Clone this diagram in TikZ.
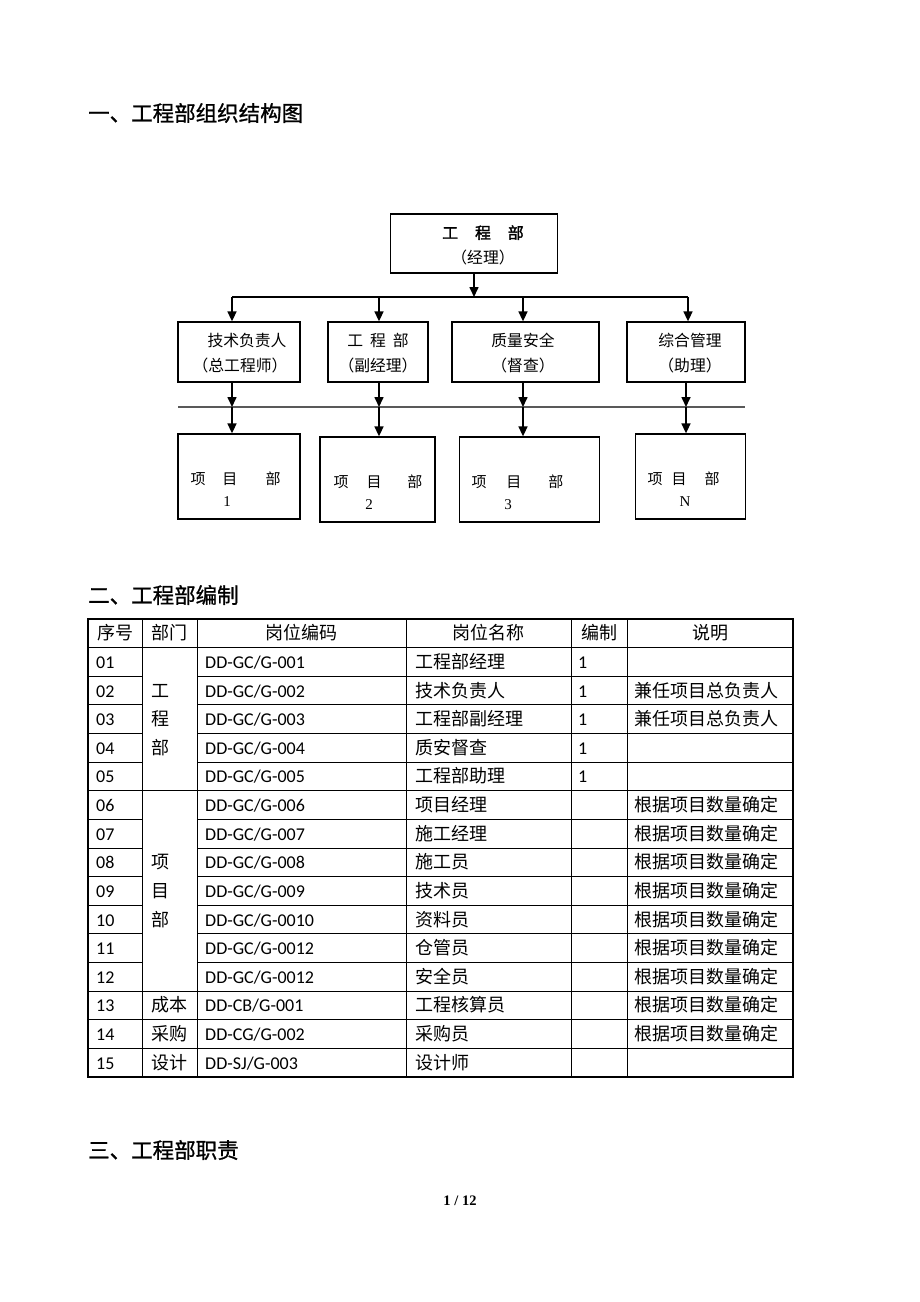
\documentclass[tikz,border=0pt]{standalone}
\usepackage{fontspec}
\setmainfont{Liberation Serif}
\newfontfamily\cjk{Noto Sans CJK SC}[AutoFakeBold=2]
\newfontfamily\cjktitle{Noto Sans CJK SC}[FakeBold=1]
\newfontfamily\latf{Carlito}
\usetikzlibrary{arrows.meta}
\newcommand\tabrow[6]{%
  \pgfmathsetmacro\yy{619+28.625*(#1+0.5)+6.5}%
  \node[tcell] (num#1) at (96,\yy) {\latf #2};
  \node[tcell] (code#1) at (205,\yy) {\latf #3};
  \node[tcell] (name#1) at (415,\yy) {\cjk #4};
  \node[tcell] (cnt#1) at (578,\yy) {\latf #5};
  \node[tcell] (note#1) at (634,\yy) {\cjk #6};
}
\begin{document}
\begin{tikzpicture}[x=1pt,y=-1pt,
  box/.style={draw,line width=1.3pt,inner sep=0pt},
  conn/.style={line width=1.6pt},
  arr/.style={line width=1.6pt,-{Triangle[length=10pt,width=9pt]}},
  chart/.style={inner sep=0pt,align=center,font=\cjk\fontsize{15.8}{24.5}\selectfont},
  proj/.style={inner sep=0pt,font=\cjk\fontsize{15}{18}\selectfont},
  projn/.style={inner sep=0pt,font=\fontsize{15}{18}\selectfont},
  tcell/.style={inner sep=0pt,anchor=base west,font=\fontsize{18}{20}\selectfont},
  thead/.style={inner sep=0pt,anchor=base,font=\cjk\fontsize{18}{20}\selectfont},
  title/.style={inner sep=0pt,anchor=west,font=\cjktitle\fontsize{21.5}{24}\selectfont},
  tline/.style={line width=0.9pt},
]
\fill[white] (0,0) rectangle (920,1302);
\useasboundingbox (0,0) rectangle (920,1302);

% titles
\node[title] (t1) at (88,113) {一、工程部组织结构图};
\node[title] (t2) at (88,595) {二、工程部编制};
\node[title] (t3) at (88,1150) {三、工程部职责};
\node[inner sep=0pt,font=\bfseries\fontsize{14.5}{16}\selectfont] (pg) at (460,1201) {1 / 12};

% ---- org chart boxes
\node[box,minimum width=167pt,minimum height=59pt] (top) at (474,243.5) {};
\node[box,minimum width=122pt,minimum height=60pt] (b1) at (239,352) {};
\node[box,minimum width=100pt,minimum height=60pt] (b2) at (378,352) {};
\node[box,minimum width=147pt,minimum height=60pt] (b3) at (525.5,352) {};
\node[box,minimum width=118pt,minimum height=60pt] (b4) at (686,352) {};
\node[box,minimum width=122pt,minimum height=85pt] (p1) at (239,476.5) {};
\node[box,minimum width=115pt,minimum height=85pt] (p2) at (377.5,479.5) {};
\node[box,minimum width=140pt,minimum height=85pt] (p3) at (529.5,479.5) {};
\node[box,minimum width=110pt,minimum height=85pt] (p4) at (690.5,476.5) {};

% texts
\node[chart] (topt) at (483,245) {{\bfseries 工\hspace{17pt}程\hspace{17pt}部}\\（经理）};
\node[chart] (b1t) at (240,353) {\hspace*{14pt}技术负责人\\（总工程师）};
\node[chart] (b2t) at (378,353) {工\hspace{7pt}程\hspace{7pt}部\\（副经理）};
\node[chart] (b3t) at (523,353) {质量安全\\（督查）};
\node[chart] (b4t) at (690,353) {综合管理\\（助理）};

\node[proj] (p1a) at (235.5,479) {项\hspace{17pt}目\hspace{28pt}部};
\node[projn] (p1b) at (227,502) {1};
\node[proj] (p2a) at (378,482) {项\hspace{18pt}目\hspace{26pt}部};
\node[projn] (p2b) at (369,505) {2};
\node[proj] (p3a) at (517.5,482) {项\hspace{20pt}目\hspace{27pt}部};
\node[projn] (p3b) at (508,505) {3};
\node[proj] (p4a) at (683.5,479) {项\hspace{9pt}目\hspace{18pt}部};
\node[projn] (p4b) at (685,502) {N};

% connectors
\coordinate (j1) at (232,297);
\coordinate (j2) at (379,297);
\coordinate (j3) at (523,297);
\coordinate (j4) at (688,297);
\coordinate (hl) at (178,407);
\coordinate (hr) at (745,407);
\coordinate (k1) at (232,407);
\coordinate (k2) at (379,407);
\coordinate (k3) at (523,407);
\coordinate (k4) at (686,407);

\draw[line width=2pt,black!65] (hl) -- (hr);
\draw[conn,line width=1.4pt] (j1) -- (j4);
\draw[arr] (top.south) -- (top.south |- j1);
\foreach \i in {1,2,3,4} {
  \draw[arr] (j\i) -- (j\i |- b\i.north);
  \draw[arr] (k\i |- b\i.south) -- (k\i);
  \draw[arr] (k\i) -- (k\i |- p\i.north);
}

% ---- table
\foreach \k in {1,6,13,14,15}
  \draw[tline] (88,{619+28.625*\k}) -- (793,{619+28.625*\k});
\foreach \k in {2,3,4,5,7,8,9,10,11,12} {
  \draw[tline] (88,{619+28.625*\k}) -- (142,{619+28.625*\k});
  \draw[tline] (197,{619+28.625*\k}) -- (793,{619+28.625*\k});
}
\foreach \xx in {142,197,406,571,627}
  \draw[tline] (\xx,619) -- (\xx,1077);
\draw[line width=2.2pt] (88,619) rectangle (793,1077);

\pgfmathsetmacro\hy{619+28.625*0.5+6.5}
\node[thead] (h1) at (115,\hy) {序号};
\node[thead] (h2) at (169.5,\hy) {部门};
\node[thead] (h3) at (301.5,\hy) {岗位编码};
\node[thead] (h4) at (488.5,\hy) {岗位名称};
\node[thead] (h5) at (599,\hy) {编制};
\node[thead] (h6) at (710,\hy) {说明};

\tabrow{1}{01}{DD-GC/G-001}{工程部经理}{1}{}
\tabrow{2}{02}{DD-GC/G-002}{技术负责人}{1}{兼任项目总负责人}
\tabrow{3}{03}{DD-GC/G-003}{工程部副经理}{1}{兼任项目总负责人}
\tabrow{4}{04}{DD-GC/G-004}{质安督查}{1}{}
\tabrow{5}{05}{DD-GC/G-005}{工程部助理}{1}{}
\tabrow{6}{06}{DD-GC/G-006}{项目经理}{}{根据项目数量确定}
\tabrow{7}{07}{DD-GC/G-007}{施工经理}{}{根据项目数量确定}
\tabrow{8}{08}{DD-GC/G-008}{施工员}{}{根据项目数量确定}
\tabrow{9}{09}{DD-GC/G-009}{技术员}{}{根据项目数量确定}
\tabrow{10}{10}{DD-GC/G-0010}{资料员}{}{根据项目数量确定}
\tabrow{11}{11}{DD-GC/G-0012}{仓管员}{}{根据项目数量确定}
\tabrow{12}{12}{DD-GC/G-0012}{安全员}{}{根据项目数量确定}
\tabrow{13}{13}{DD-CB/G-001}{工程核算员}{}{根据项目数量确定}
\tabrow{14}{14}{DD-CG/G-002}{采购员}{}{根据项目数量确定}
\tabrow{15}{15}{DD-SJ/G-003}{设计师}{}{}

% department column
\foreach \r/\c in {2/工,3/程,4/部,8/项,9/目,10/部}
  \node[thead] (d\r) at (160,{619+28.625*(\r+0.5)+6.5}) {\c};
\foreach \r/\c in {13/成本,14/采购,15/设计}
  \node[thead] (d\r) at (169.5,{619+28.625*(\r+0.5)+6.5}) {\c};
\end{tikzpicture}
\end{document}
